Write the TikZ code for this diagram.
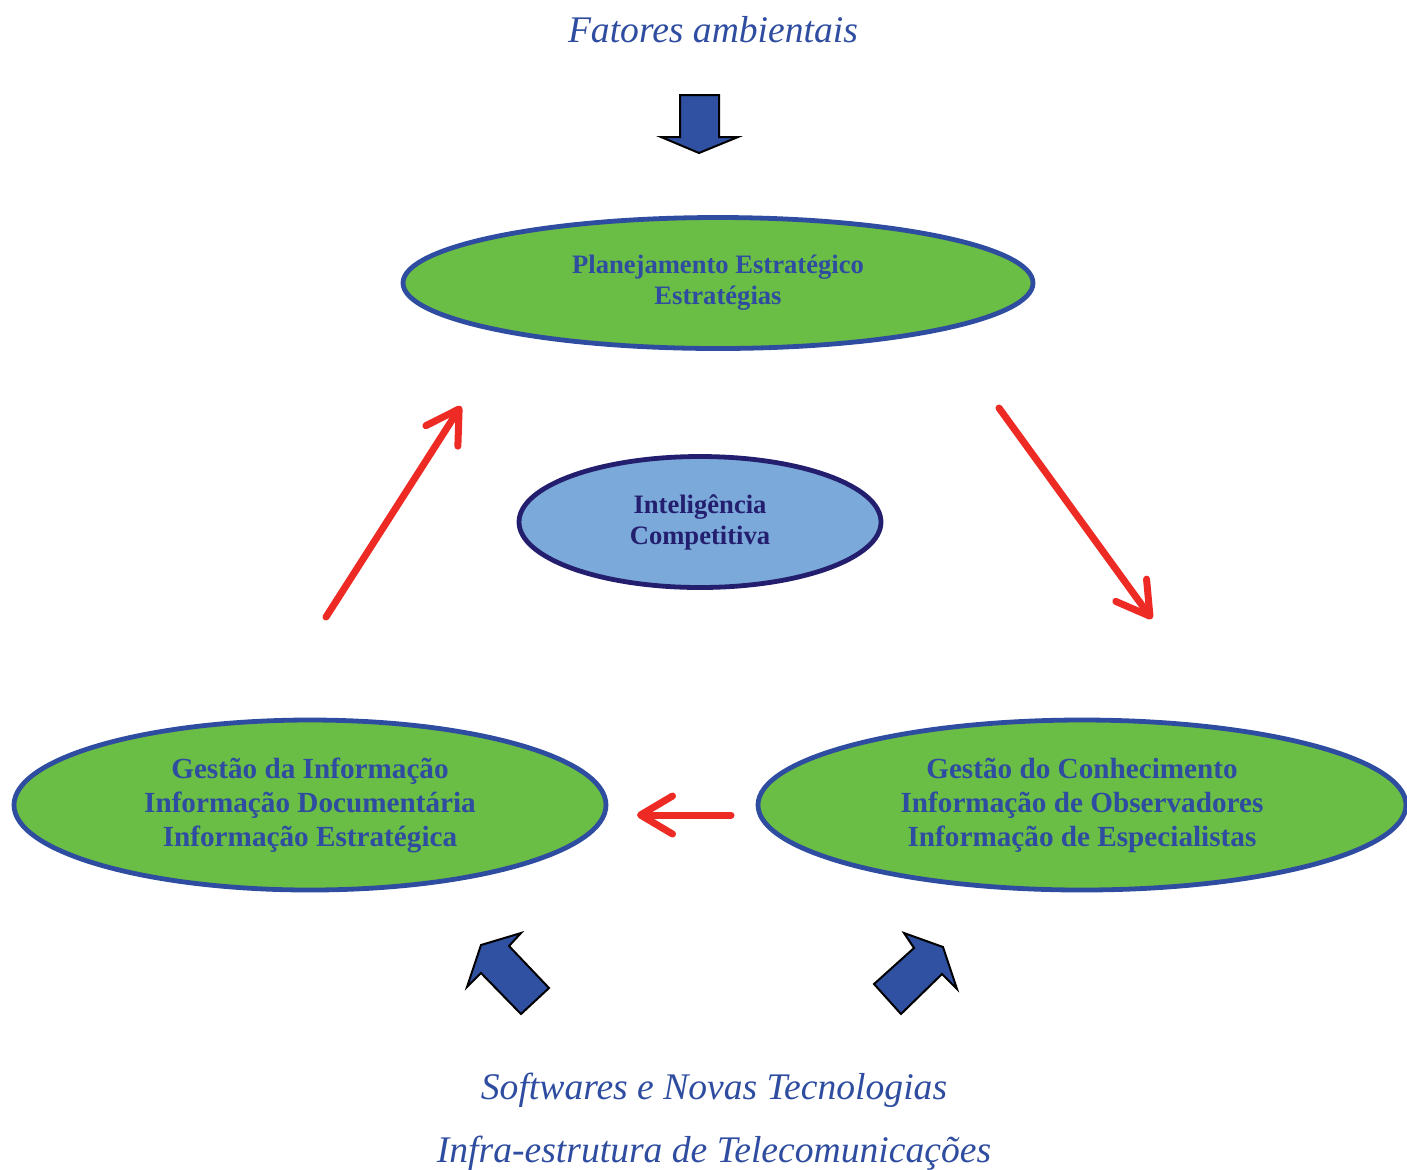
\documentclass[tikz,border=0pt]{standalone}
\usepackage{fontspec}
\setmainfont{Liberation Serif}
\usetikzlibrary{shapes.geometric,arrows.meta}
\definecolor{gfill}{HTML}{6ABD45}
\definecolor{bblue}{HTML}{2F4DA0}
\definecolor{lblue}{HTML}{7AA9DA}
\definecolor{navy}{HTML}{231F6E}
\definecolor{rred}{HTML}{EE2A24}
\definecolor{afill}{HTML}{3050A2}
\tikzset{
  greenell/.style={ellipse, draw=bblue, line width=2.4pt, fill=gfill, inner sep=0pt,
    text=bblue, align=center, font=\fontsize{14.6pt}{17pt}\selectfont\bfseries},
  icell/.style={ellipse, draw=navy, line width=2.4pt, fill=lblue, inner sep=0pt,
    text=navy, align=center, font=\fontsize{13.3pt}{15.5pt}\selectfont\bfseries},
  italtext/.style={text=bblue, font=\fontsize{18.8pt}{22pt}\selectfont\itshape, inner sep=0pt},
  redarrow/.style={draw=rred, line width=3.5pt, line cap=round,
    -{Straight Barb[length=16pt,width=19pt,round]}},
  blockarrow/.style={draw=black, line width=1pt, fill=afill, line join=miter}
}
\begin{document}
\begin{tikzpicture}[x=0.5pt,y=-0.5pt]
\useasboundingbox (0,0) rectangle (1407,1169);
% ellipses
\node[greenell, minimum width=315pt, minimum height=65.5pt,
  font=\fontsize{13.3pt}{15.5pt}\selectfont\bfseries] (plan) at (718,283)
  {Planejamento Estratégico\\Estratégias};
\node[icell, minimum width=181pt, minimum height=65.5pt] (ic) at (700,522)
  {Inteligência\\Competitiva};
\node[greenell, minimum width=296pt, minimum height=85pt] (gi) at (310,805)
  {Gestão da Informação\\Informação Documentária\\Informação Estratégica};
\node[greenell, minimum width=324pt, minimum height=85pt] (gc) at (1082,805)
  {Gestão do Conhecimento\\Informação de Observadores\\Informação de Especialistas};
% outside texts
\node[italtext] (fat) at (713,30) {Fatores ambientais};
\node[italtext] (soft) at (714,1090) {Softwares e Novas Tecnologias};
\node[italtext] (infra) at (714,1153) {Infra-estrutura de Telecomunicações};
% red arrows
\coordinate (r1s) at (326,617);
\coordinate (r1e) at (461,406);
\coordinate (r2s) at (999,408);
\coordinate (r2e) at (1152,619);
\coordinate (r3s) at (731,815);
\coordinate (r3e) at (637,815);
\draw[redarrow] (r1s) -- (r1e);
\draw[redarrow] (r2s) -- (r2e);
\draw[redarrow] (r3s) -- (r3e);
% block arrows
\draw[blockarrow] (680,95) -- (719,95) -- (719,137) -- (738,137) -- (699,153) -- (661,137) -- (680,137) -- cycle;
\draw[blockarrow] (481,945) -- (521,933) -- (509,946) -- (549,988) -- (521,1014) -- (481,973) -- (467,987) -- cycle;
\draw[blockarrow] (904,933) -- (943,947) -- (957,989) -- (942,974) -- (901,1014) -- (874,984) -- (914,948) -- cycle;
\end{tikzpicture}
\end{document}
